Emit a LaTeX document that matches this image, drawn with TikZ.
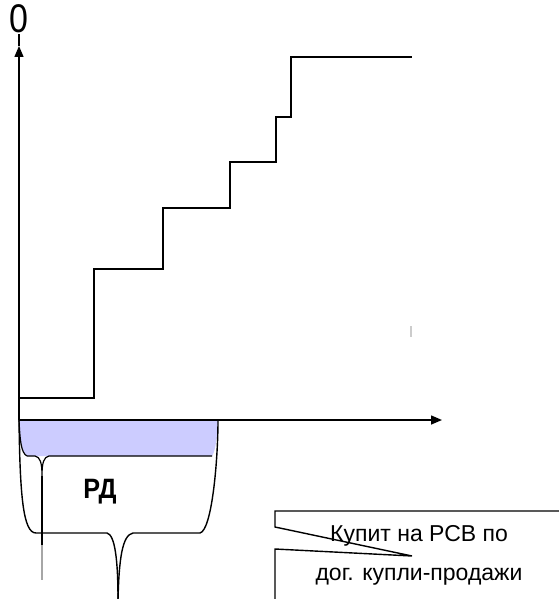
\documentclass[tikz,border=0pt]{standalone}
\usepackage{fontspec}
\setmainfont{Liberation Sans}
\usetikzlibrary{positioning,arrows.meta}
\definecolor{rdblue}{RGB}{204,204,255}

\begin{document}
\begin{tikzpicture}[x=1pt,y=-1pt,line width=1.5pt,
        axis/.style={-{Triangle[length=11pt,width=9pt]}},
        stair/.style={line width=1.7pt},
        lbl/.style={inner sep=0pt}]
    \useasboundingbox (0,0) rectangle (558,599);
    % axes
    \coordinate (O) at (19,420);
    \coordinate (X) at (442,420);
    \coordinate (Y) at (19,46);
    \node[lbl] (zero) at (19,19) {\fontsize{40}{42}\selectfont\scalebox{0.85}[1]{0}};
    % RD region
    \fill[rdblue] (O)--(218,420) .. controls (217,440) and (215,452) .. (212,456)
        -- (27,456) .. controls (21,453) and (20,440) .. (O) -- cycle;
    \draw[line width=1.2pt] (27,456) -- (35,456) .. controls (40,457) and (42,462) .. (42,476)
        .. controls (42,462) and (44,457) .. (49,456) -- (212,456);
    \draw[line width=1.2pt] (27,456) .. controls (21,453) and (20,440) .. (O);
    \draw[line width=1.2pt] (42,476) -- (42,545);
    \draw[line width=1.2pt, black!35] (42,545) -- (42,580);
    \draw[line width=1.4pt] (O) .. controls (20,495) and (23,533) .. (36,533) -- (107,533)
        .. controls (115,535) and (118,560) .. (118,600);
    \draw[line width=1.4pt] (118,600) .. controls (119,560) and (122,535) .. (133,533) -- (200,533)
        .. controls (212,530) and (218,460) .. (218,420);
    \node[lbl, font=\fontsize{28}{30}\selectfont\bfseries] (rd) at (100,492) {\scalebox{0.9}[1]{РД}};
    \draw[axis] (O) -- (X);
    \draw[axis] (O) -- (Y);
    \draw (Y) -- (zero.south);
    % steps
    \draw[stair] (19,398) -| (94,269) -| (163,208) -| (230,162) -| (276,117) -| (291,57) -- (412,57);
    \draw[line width=2pt, black!20] (411,326) -- (411,337);
    % callout
    \draw[line width=1.4pt] (560,511) -- (275,511) -- (275,527) -- (412,556) -- (275,549) -- (275,600);
    \node[lbl, align=center, font=\fontsize{23}{39}\selectfont] (buy) at (419,555)
        {Купит на РСВ по\\дог. купли-продажи};
\end{tikzpicture}
\end{document}
